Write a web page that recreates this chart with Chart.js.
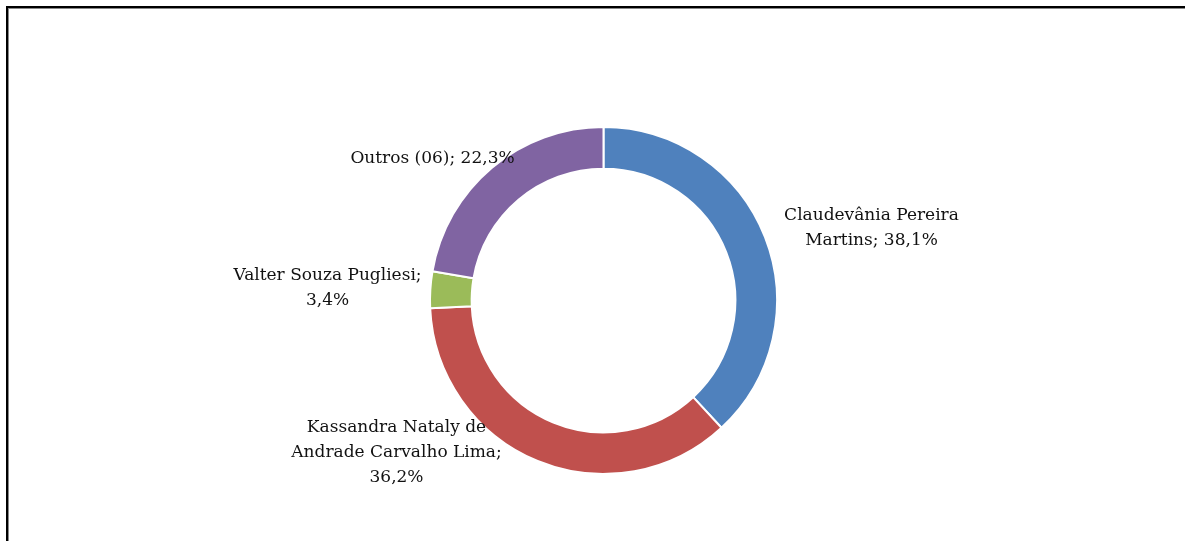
<!DOCTYPE html>
<html>
<head>
<meta charset="utf-8">
<script src="https://cdn.jsdelivr.net/npm/chart.js@4.4.0/dist/chart.umd.min.js"></script>
<style>
  html, body { margin: 0; padding: 0; background: #fff; overflow: hidden; }
  #wrap { position: relative; width: 1185px; height: 541px; }
  #frame { position: absolute; left: 6px; top: 6px; width: 1300px; height: 700px;
           border-left: 2px solid #000; border-top: 2px solid #000; box-shadow: 1px 1px 0 #888 inset; }
  canvas { position: absolute; left: 0; top: 0; }
</style>
</head>
<body>
<div id="wrap">
  <div id="frame"></div>
  <canvas id="myChart" width="1185" height="541"></canvas>
</div>
<script>
const nomes = ['Claudevânia Pereira Martins', 'Kassandra Nataly de Andrade Carvalho Lima', 'Valter Souza Pugliesi', 'Outros (06)'];
const percentuais = [38.1, 36.2, 3.4, 22.3];
const cores = ['#4F81BD', '#C0504D', '#9BBB59', '#8064A2'];

// quebras de linha dos rotulos, como no grafico original
const linhasRotulo = [
  ['Claudevânia Pereira', 'Martins; 38,1%'],
  ['Kassandra Nataly de', 'Andrade Carvalho Lima;', '36,2%'],
  ['Valter Souza Pugliesi;', '3,4%'],
  ['Outros (06); 22,3%']
];
// posicao do centro do rotulo, relativa ao centro da rosca
const posRotulo = [
  [268, -72],
  [-207, 152],
  [-276, -12],
  [-171, -142]
];

const rotulos = {
  id: 'rotulos',
  afterDatasetsDraw(chart) {
    const c = chart.ctx;
    const arc = chart.getDatasetMeta(0).data[0];
    c.save();
    c.font = '17px "DejaVu Serif", "Liberation Serif", serif';
    c.fillStyle = '#111';
    c.textAlign = 'center';
    c.textBaseline = 'middle';
    linhasRotulo.forEach((linhas, i) => {
      const x = arc.x + posRotulo[i][0];
      const y0 = arc.y + posRotulo[i][1] - (linhas.length - 1) * 12.5;
      linhas.forEach((t, j) => c.fillText(t, x, y0 + j * 25));
    });
    c.restore();
  }
};

const ctx = document.getElementById('myChart').getContext('2d');

const data = {
  labels: nomes,
  datasets: [{
    data: percentuais,
    backgroundColor: cores,
    borderColor: '#fff',
    borderWidth: 2
  }]
};

const config = {
  type: 'doughnut',
  data,
  options: {
    responsive: false,
    animation: false,
    cutout: '76%',
    layout: {
      padding: { left: 429, right: 407, top: 126, bottom: 66 }
    },
    plugins: {
      legend: { display: false },
      tooltip: { enabled: false }
    }
  },
  plugins: [rotulos]
};

let myChart = new Chart(ctx, config);
</script>
</body>
</html>
